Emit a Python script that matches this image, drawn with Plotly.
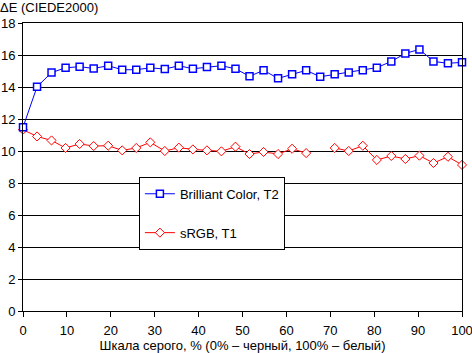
import plotly.graph_objects as go

# Grey-scale levels (%), 32 steps
gray_pct = [0.0, 3.2, 6.5, 9.7, 12.9, 16.1, 19.4, 22.6, 25.8, 29.0, 32.3,
            35.5, 38.7, 41.9, 45.2, 48.4, 51.6, 54.8, 58.1, 61.3, 64.5, 67.7,
            71.0, 74.2, 77.4, 80.6, 83.9, 87.1, 90.3, 93.5, 96.8, 100.0]

brilliant_t2 = [11.48, 14.02, 14.90, 15.20, 15.27, 15.16, 15.33, 15.08, 15.08,
                15.20, 15.12, 15.33, 15.14, 15.25, 15.33, 15.14, 14.67, 15.04,
                14.54, 14.79, 15.04, 14.64, 14.79, 14.91, 15.04, 15.21, 15.60,
                16.10, 16.35, 15.60, 15.48, 15.54]

srgb_t1 = [11.33, 10.91, 10.66, 10.19, 10.44, 10.31, 10.33, 10.04, 10.19,
           10.54, 10.00, 10.21, 10.10, 10.04, 9.98, 10.27, 9.81, 9.94, 9.81,
           10.14, 9.87, None, 10.19, 10.00, 10.33, 9.44, 9.69, 9.50, 9.71,
           9.25, 9.64, 9.13]

y_ticks = [0, 2, 4, 6, 8, 10, 12, 14, 16, 18]
x_ticks = [0, 10, 20, 30, 40, 50, 60, 70, 80, 90, 100]

FONT = "Arial, Liberation Sans, sans-serif"

fig = go.Figure()
fig.add_trace(go.Scatter(
    x=gray_pct, y=srgb_t1, name="sRGB, T1", mode="lines+markers",
    line=dict(color="#FF0000", width=1),
    marker=dict(symbol="diamond", size=7, color="white",
                line=dict(color="#FF0000", width=1)),
    connectgaps=False, cliponaxis=False, legendrank=2, legendgroup="b"))
fig.add_trace(go.Scatter(
    x=gray_pct, y=brilliant_t2, name="Brilliant Color, T2", mode="lines+markers",
    line=dict(color="#0000FF", width=1),
    marker=dict(symbol="square", size=7, color="white",
                line=dict(color="#0000FF", width=1.5)),
    cliponaxis=False, legendrank=1, legendgroup="a"))

fig.update_layout(
    width=472, height=353,
    margin=dict(l=23, r=10, t=23, b=42),
    paper_bgcolor="white", plot_bgcolor="white",
    font=dict(family=FONT, size=13, color="black"),
    showlegend=True,
    legend=dict(x=0.264, y=0.467, xanchor="left", yanchor="top",
                bgcolor="white", bordercolor="black", borderwidth=1,
                font=dict(size=13), traceorder="grouped", tracegroupgap=19,
                itemwidth=30,
                title=dict(text=" ", font=dict(size=1))),
    xaxis=dict(range=[0, 100], tickvals=x_ticks, showgrid=False,
               showline=True, linecolor="black", linewidth=1, mirror=True,
               ticks="outside", ticklen=5, tickcolor="black", zeroline=False,
               automargin=False, ticklabelstandoff=2,
               ticklabeloverflow="allow",
               title=dict(text="Шкала серого, % (0% – черный, 100% – белый)",
                          standoff=2, font=dict(size=13))),
    yaxis=dict(range=[0, 18], tickvals=y_ticks, showgrid=True,
               gridcolor="black", gridwidth=1, automargin=False,
               showline=True, linecolor="black", linewidth=1, mirror=True,
               ticks="outside", ticklen=4, tickcolor="black", zeroline=False),
    annotations=[dict(text="ΔE (CIEDE2000)", xref="paper", yref="paper",
                      x=0, y=1, xanchor="left", yanchor="bottom",
                      xshift=-25, yshift=6, showarrow=False,
                      font=dict(size=13))],
)

fig.write_html("out.html")
